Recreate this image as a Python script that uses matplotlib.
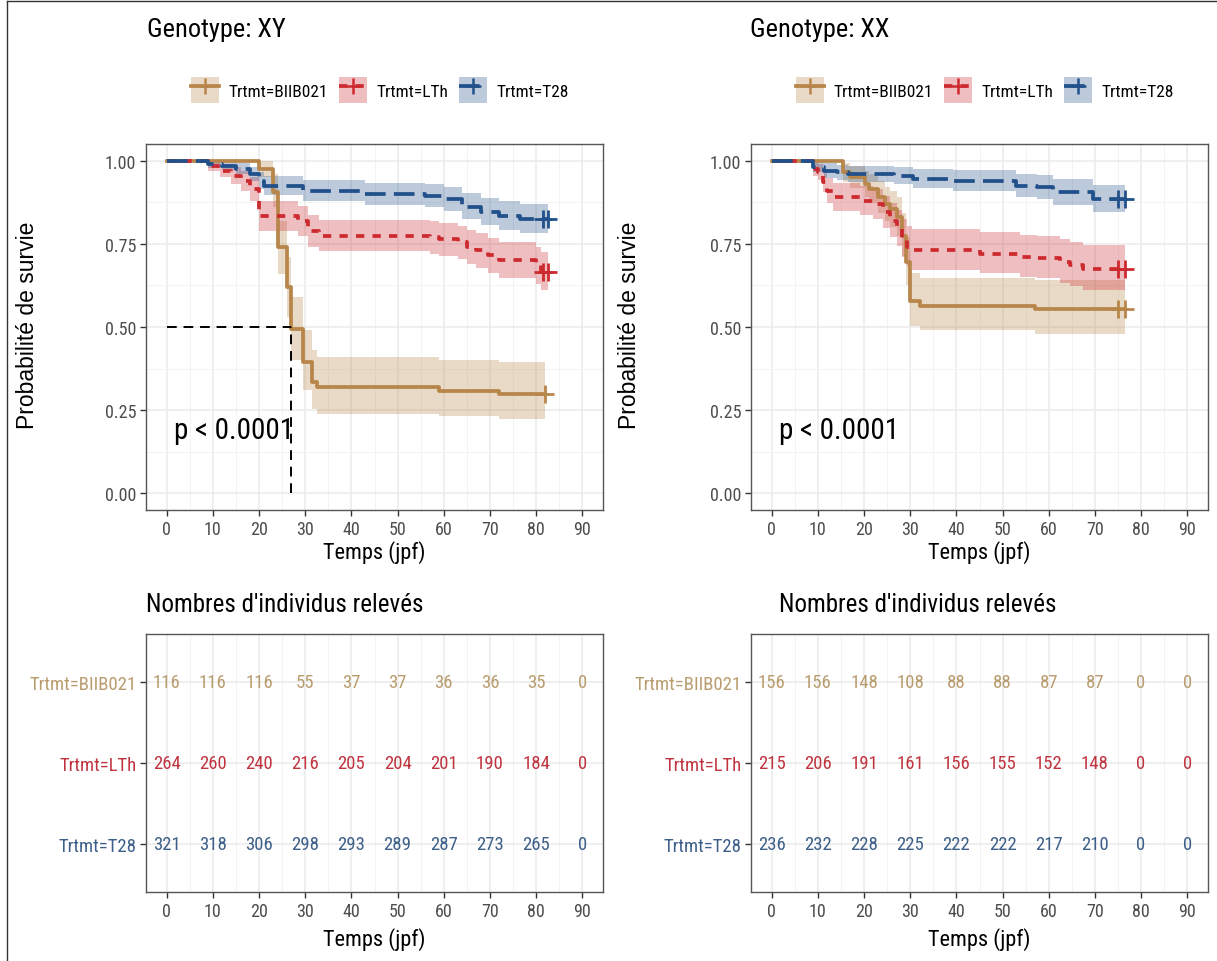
import matplotlib
matplotlib.use("Agg")
import matplotlib.pyplot as plt
from matplotlib.lines import Line2D
from matplotlib.patches import Patch
from matplotlib.ticker import MultipleLocator

plt.rcParams['font.family'] = ['Roboto Condensed', 'Archivo Narrow', 'Liberation Sans', 'DejaVu Sans']

W, H = 1217, 962

# groupes / couleurs
groups = ["Trtmt=BIIB021", "Trtmt=LTh", "Trtmt=T28"]
line_colors = ["#B8864A", "#CD2A30", "#21508A"]
text_colors = ["#B99C6E", "#C0343F", "#3C5F89"]
line_styles = ['-', (0, (2.2, 2.2)), (0, (5.5, 2.2))]

# ---- Genotype XY : courbes de survie ----
xy_biib_t = [0, 20, 23, 24, 26, 27, 29.5, 31.5, 32.5, 59, 72, 82]
xy_biib_s = [1.0, 0.976, 0.907, 0.74, 0.62, 0.494, 0.395, 0.334, 0.319, 0.309, 0.298, 0.298]
xy_biib_lo = [1.0, 0.95, 0.86, 0.66, 0.53, 0.40, 0.31, 0.255, 0.24, 0.232, 0.225, 0.225]
xy_biib_hi = [1.0, 1.0, 0.96, 0.82, 0.71, 0.59, 0.49, 0.43, 0.41, 0.40, 0.395, 0.395]

xy_lth_t = [0, 9, 11.5, 14, 16, 18, 20, 28.5, 30.5, 33, 57, 59, 63, 65, 67, 69.5, 72, 80, 81, 82.5]
xy_lth_s = [1.0, 0.985, 0.97, 0.955, 0.94, 0.916, 0.835, 0.82, 0.79, 0.775, 0.77, 0.763,
            0.755, 0.74, 0.73, 0.715, 0.70, 0.685, 0.666, 0.666]
xy_lth_lo = [1.0, 0.97, 0.95, 0.93, 0.91, 0.88, 0.79, 0.775, 0.74, 0.727, 0.72, 0.713,
             0.704, 0.688, 0.678, 0.662, 0.646, 0.63, 0.61, 0.61]
xy_lth_hi = [1.0, 1.0, 0.99, 0.98, 0.97, 0.95, 0.88, 0.865, 0.838, 0.823, 0.818, 0.812,
             0.805, 0.792, 0.783, 0.768, 0.755, 0.74, 0.724, 0.724]

xy_t28_t = [0, 9, 12, 15, 18, 20, 21, 29.5, 43, 56, 60, 64, 68, 72, 76.5, 82.5]
xy_t28_s = [1.0, 0.99, 0.985, 0.976, 0.96, 0.94, 0.925, 0.91, 0.90, 0.895, 0.885, 0.862,
            0.846, 0.835, 0.825, 0.825]
xy_t28_lo = [1.0, 0.979, 0.972, 0.96, 0.94, 0.915, 0.897, 0.88, 0.868, 0.862, 0.85, 0.824,
             0.806, 0.793, 0.782, 0.782]
xy_t28_hi = [1.0, 1.0, 0.998, 0.993, 0.982, 0.966, 0.954, 0.941, 0.933, 0.93, 0.921, 0.902,
             0.888, 0.879, 0.87, 0.87]

xy_censor = [[82], [81.5, 82.5], [81.5, 82.5]]
xy_median = 27

# ---- Genotype XX ----
xx_biib_t = [0, 15.5, 17, 20.3, 21, 23, 24.6, 25.7, 27.2, 28.3, 29, 30, 32.2, 57, 76.5]
xx_biib_s = [1.0, 0.965, 0.95, 0.93, 0.915, 0.89, 0.87, 0.855, 0.83, 0.775, 0.695, 0.578,
             0.564, 0.555, 0.555]
xx_biib_lo = [1.0, 0.937, 0.917, 0.891, 0.873, 0.843, 0.82, 0.802, 0.774, 0.712, 0.626,
              0.503, 0.49, 0.48, 0.48]
xx_biib_hi = [1.0, 0.994, 0.985, 0.97, 0.959, 0.94, 0.922, 0.91, 0.89, 0.843, 0.77, 0.662,
              0.648, 0.642, 0.642]

xx_lth_t = [0, 9, 10, 11, 12, 13.2, 19.2, 22, 24, 25.7, 27.2, 28.3, 29.3, 30.4, 45, 53.8,
            57.4, 62.4, 64.6, 67.5, 76.5]
xx_lth_s = [1.0, 0.976, 0.967, 0.935, 0.91, 0.89, 0.88, 0.87, 0.845, 0.82, 0.795, 0.765,
            0.74, 0.73, 0.72, 0.71, 0.707, 0.695, 0.685, 0.675, 0.675]
xx_lth_lo = [1.0, 0.955, 0.943, 0.905, 0.873, 0.849, 0.838, 0.826, 0.798, 0.77, 0.742,
             0.71, 0.683, 0.672, 0.661, 0.65, 0.646, 0.633, 0.622, 0.611, 0.611]
xx_lth_hi = [1.0, 0.997, 0.991, 0.968, 0.949, 0.933, 0.925, 0.916, 0.895, 0.873, 0.851,
             0.825, 0.803, 0.794, 0.785, 0.776, 0.774, 0.764, 0.755, 0.746, 0.746]

xx_t28_t = [0, 9, 11.3, 14.2, 16.6, 26.4, 30.7, 39.3, 53, 57.4, 61, 69.5, 76.5]
xx_t28_s = [1.0, 0.982, 0.97, 0.965, 0.96, 0.955, 0.946, 0.94, 0.925, 0.92, 0.905, 0.885, 0.885]
xx_t28_lo = [1.0, 0.965, 0.949, 0.942, 0.935, 0.929, 0.918, 0.91, 0.892, 0.886, 0.868,
             0.845, 0.845]
xx_t28_hi = [1.0, 0.999, 0.992, 0.988, 0.985, 0.981, 0.975, 0.971, 0.96, 0.956, 0.944,
             0.927, 0.927]

xx_censor = [[75, 76.5], [75, 76.5], [75, 76.5]]

# ---- tables des effectifs ----
table_times = [0, 10, 20, 30, 40, 50, 60, 70, 80, 90]
xy_risk_biib = [116, 116, 116, 55, 37, 37, 36, 36, 35, 0]
xy_risk_lth = [264, 260, 240, 216, 205, 204, 201, 190, 184, 0]
xy_risk_t28 = [321, 318, 306, 298, 293, 289, 287, 273, 265, 0]
xx_risk_biib = [156, 156, 148, 108, 88, 88, 87, 87, 0, 0]
xx_risk_lth = [215, 206, 191, 161, 156, 155, 152, 148, 0, 0]
xx_risk_t28 = [236, 232, 228, 225, 222, 222, 217, 210, 0, 0]


def box(x0, y0, x1, y1):
    return [x0 / W, 1 - y1 / H, (x1 - x0) / W, (y1 - y0) / H]


def style_axes(ax):
    for sp in ax.spines.values():
        sp.set_color('#555555')
        sp.set_linewidth(1.0)
    ax.set_xlim(-4.5, 94.5)
    ax.set_xticks(table_times)
    ax.xaxis.set_minor_locator(MultipleLocator(5))
    ax.grid(which='major', color='#EBEBEB', lw=1.1)
    ax.grid(which='minor', color='#F3F3F3', lw=0.7)
    ax.set_axisbelow(True)
    ax.tick_params(which='major', length=4, width=1.0, color='#333333',
                   labelcolor='#4D4D4D', labelsize=13, pad=3)
    ax.tick_params(which='minor', length=0)


def draw_surv(ax, curves, censors, median=None):
    style_axes(ax)
    for (t, s, lo, hi), col in zip(curves, line_colors):
        ax.fill_between(t, lo, hi, step='post', color=col, alpha=0.3, lw=0)
    for (t, s, lo, hi), col, ls, ct in zip(curves, line_colors, line_styles, censors):
        ax.step(t, s, where='post', color=col, lw=2.7, ls=ls)
        ax.plot(ct, [s[-1]] * len(ct), ls='none', marker='+', ms=13, mew=2, color=col)
    if median is not None:
        ax.plot([0, median], [0.5, 0.5], color='black', lw=1.4, ls=(0, (5, 3.5)))
        ax.plot([median, median], [0, 0.5], color='black', lw=1.4, ls=(0, (5, 3.5)))
    ax.text(1.6, 0.19, "p < 0.0001", fontsize=21, va='center', ha='left')
    ax.set_ylim(-0.05, 1.05)
    ax.set_yticks([0, 0.25, 0.5, 0.75, 1.0])
    ax.set_yticklabels(["0.00", "0.25", "0.50", "0.75", "1.00"])
    ax.yaxis.set_minor_locator(MultipleLocator(0.125))
    ax.set_xlabel("Temps (jpf)", fontsize=16, labelpad=2)


def draw_table(ax, risks):
    style_axes(ax)
    ax.grid(which='major', axis='y', color='#EBEBEB', lw=1.1)
    for i, (vals, col) in enumerate(zip(risks, text_colors)):
        for t, v in zip(table_times, vals):
            ax.text(t, 3 - i, str(v), ha='center', va='center', color=col, fontsize=13.5)
    ax.set_ylim(0.4, 3.6)
    ax.set_yticks([3, 2, 1])
    ax.set_yticklabels(groups, fontsize=13.5)
    for lab, col in zip(ax.get_yticklabels(), text_colors):
        lab.set_color(col)
    ax.set_xlabel("Temps (jpf)", fontsize=16, labelpad=5)


fig = plt.figure(figsize=(W / 100, H / 100), dpi=100)

ax1 = fig.add_axes(box(146, 145, 603, 511))
ax2 = fig.add_axes(box(751, 145, 1208, 511))
ax3 = fig.add_axes(box(146, 635, 603, 893))
ax4 = fig.add_axes(box(751, 635, 1208, 893))

draw_surv(ax1, [(xy_biib_t, xy_biib_s, xy_biib_lo, xy_biib_hi),
                (xy_lth_t, xy_lth_s, xy_lth_lo, xy_lth_hi),
                (xy_t28_t, xy_t28_s, xy_t28_lo, xy_t28_hi)], xy_censor, xy_median)
draw_surv(ax2, [(xx_biib_t, xx_biib_s, xx_biib_lo, xx_biib_hi),
                (xx_lth_t, xx_lth_s, xx_lth_lo, xx_lth_hi),
                (xx_t28_t, xx_t28_s, xx_t28_lo, xx_t28_hi)], xx_censor)
draw_table(ax3, [xy_risk_biib, xy_risk_lth, xy_risk_t28])
draw_table(ax4, [xx_risk_biib, xx_risk_lth, xx_risk_t28])

# axe y
for x in (28, 630):
    fig.text(x / W, 1 - 325 / H, "Probabilité de survie", rotation=90, fontsize=16.5,
             family=['Liberation Sans', 'DejaVu Sans'], ha='center', va='center')

# titres
fig.text(147 / W, 1 - 30 / H, "Genotype: XY", fontsize=19, va='center', ha='left')
fig.text(750 / W, 1 - 30 / H, "Genotype: XX", fontsize=19, va='center', ha='left')
fig.text(146 / W, 1 - 605 / H, "Nombres d'individus relevés", fontsize=18, va='center', ha='left')
fig.text(779 / W, 1 - 605 / H, "Nombres d'individus relevés", fontsize=18, va='center', ha='left')

# légendes
handles = []
for col, ls in zip(line_colors, line_styles):
    handles.append((Patch(facecolor=col, alpha=0.3, lw=0),
                    Line2D([], [], color=col, lw=2.7, ls=ls, marker='+', ms=11, mew=1.8)))
for cx in (380, 985):
    fig.legend(handles, groups, loc='center', bbox_to_anchor=(cx / W, 1 - 91 / H),
               ncol=3, frameon=False, fontsize=12.5, handlelength=1.6, handleheight=2.0,
               handletextpad=0.55, columnspacing=0.65, borderpad=0)

# cadre
fig.add_artist(Line2D([7 / W, 7 / W], [0, 1 - 2 / H], transform=fig.transFigure,
                      color='#333333', lw=1))
fig.add_artist(Line2D([7 / W, 1], [1 - 2 / H, 1 - 2 / H], transform=fig.transFigure,
                      color='#333333', lw=1))

fig.savefig("out.png", dpi=100)
